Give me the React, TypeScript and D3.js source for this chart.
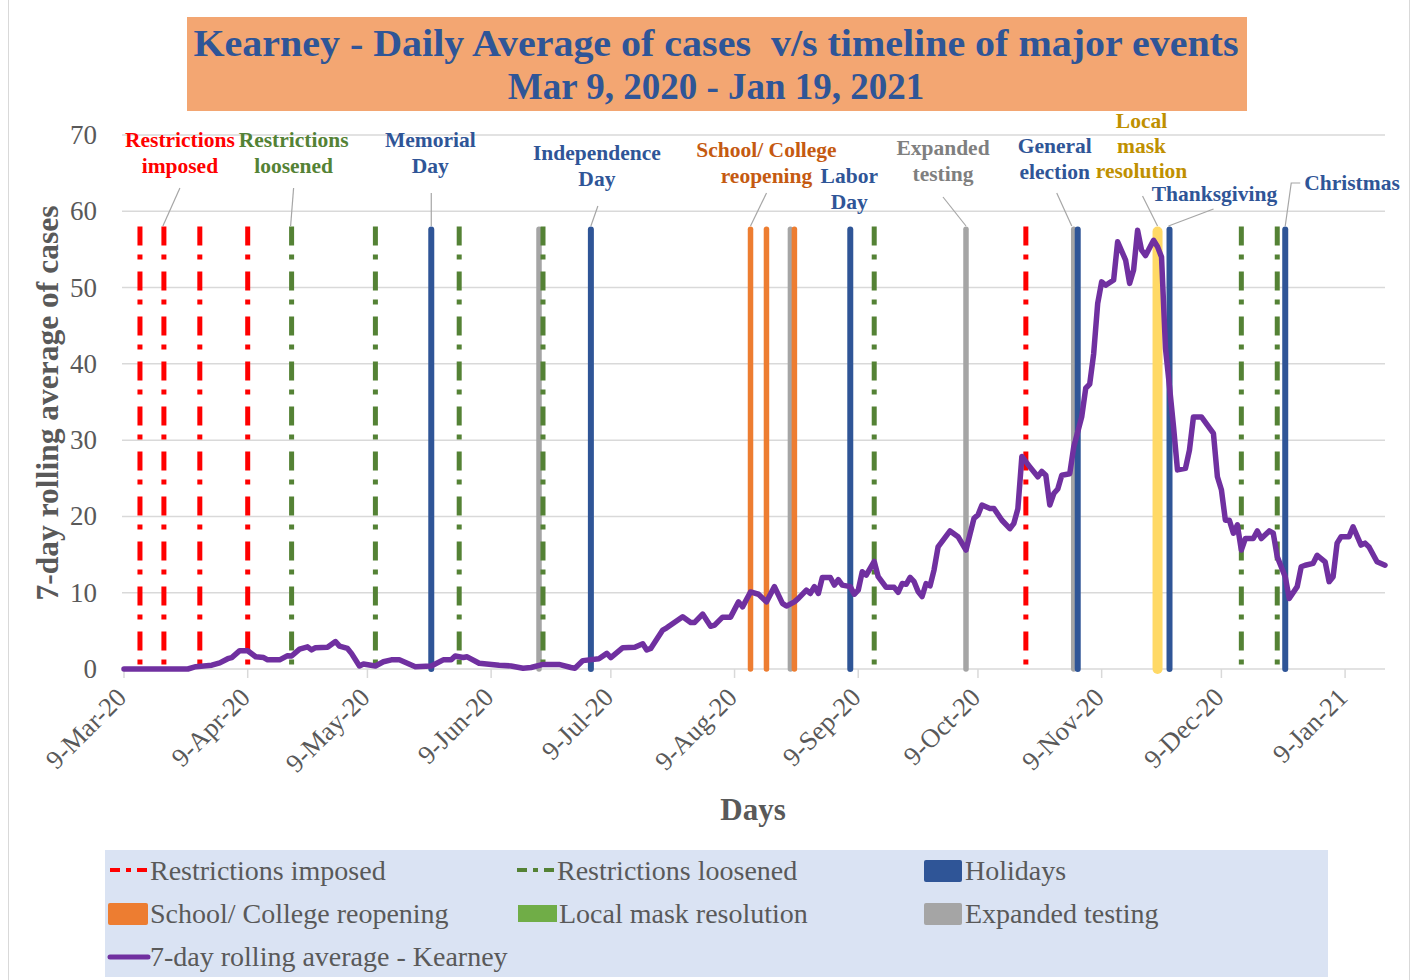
import React from "react";
import { line, scaleLinear, scaleTime, timeDay, timeFormat, timeParse } from "d3";

const parse = timeParse("%Y-%m-%d");
const startDate = parse("2020-03-09") as Date;
const endDate = parse("2021-01-19") as Date;

// 7-day rolling average, [days since 9-Mar-20, cases]
const rollingAvg: [number, number][] = [
  [0, 0], [16, 0], [18, 0.3], [22, 0.5], [24, 0.8], [26, 1.35], [27, 1.5], [29, 2.4], [31, 2.4],
  [33, 1.6], [35, 1.5], [36, 1.2], [39, 1.2], [41, 1.75], [42, 1.7], [44, 2.6], [46, 2.9], [47, 2.5],
  [48, 2.8], [51, 2.85], [53, 3.6], [54, 3.0], [56, 2.7], [57, 2.05], [59, 0.4], [60, 0.65], [63, 0.4],
  [65, 0.95], [67, 1.2], [69, 1.2], [73, 0.3], [77, 0.4], [80, 1.2], [82, 1.2], [83, 1.7], [85, 1.5],
  [86, 1.6], [89, 0.75], [94, 0.5], [97, 0.4], [100, 0.1], [102, 0.2], [105, 0.6], [109, 0.6],
  [112, 0.2], [113, 0.1], [115, 1.1], [119, 1.35], [121, 2.05], [122, 1.5], [125, 2.8], [128, 2.85],
  [130, 3.3], [131, 2.5], [132, 2.7], [135, 5.1], [136, 5.4], [140, 6.85], [142, 6.1], [143, 6.1],
  [145, 7.2], [147, 5.6], [148, 5.75], [150, 6.8], [152, 6.8], [154, 8.8], [155, 8.15], [157, 10.1],
  [159, 9.8], [161, 8.8], [163, 10.8], [165, 8.6], [166, 8.25], [168, 8.8], [169, 9.25], [171, 10.35],
  [172, 9.9], [173, 10.8], [174, 9.9], [175, 12.0], [177, 12.0], [178, 11.0], [179, 11.7], [180, 11.0],
  [182, 10.8], [183, 9.8], [184, 10.35], [185, 12.75], [186, 12.3], [188, 14.1], [189, 12.1],
  [191, 10.7], [193, 10.7], [194, 10.05], [195, 11.2], [196, 11.1], [197, 12.0], [198, 11.45],
  [199, 10.15], [200, 9.5], [201, 11.2], [202, 10.9], [203, 13.0], [204, 16.0], [207, 18.1],
  [209, 17.35], [211, 15.6], [213, 19.75], [214, 20.2], [215, 21.5], [217, 21.05], [218, 21.05],
  [220, 19.5], [222, 18.4], [223, 19.1], [224, 21.0], [225, 27.85], [227, 26.5], [229, 25.2],
  [230, 25.9], [231, 25.4], [232, 21.5], [233, 23.0], [234, 23.6], [235, 25.4], [237, 25.6],
  [238, 29.1], [240, 33.05], [241, 36.8], [242, 37.35], [243, 41.35], [244, 47.9], [245, 50.75],
  [246, 50.3], [248, 51.0], [249, 56.0], [251, 53.6], [252, 50.55], [253, 52.3], [254, 57.5],
  [255, 54.9], [256, 54.2], [258, 56.2], [259, 55.35], [260, 54.0], [261, 42.0], [262, 37.0],
  [263, 31.8], [264, 26.1], [266, 26.3], [267, 28.7], [268, 33.05], [270, 33.05], [273, 30.9],
  [274, 25.2], [275, 23.5], [276, 19.5], [277, 19.5], [278, 17.8], [279, 18.9], [280, 15.6],
  [281, 17.1], [283, 17.1], [284, 18.1], [285, 17.1], [287, 18.1], [288, 17.8], [289, 14.7],
  [291, 12.1], [292, 9.25], [294, 10.8], [295, 13.4], [296, 13.6], [298, 13.85], [299, 14.9],
  [301, 14.05], [302, 11.45], [303, 12.1], [304, 16.5], [305, 17.35], [307, 17.35], [308, 18.65],
  [310, 16.25], [311, 16.5], [312, 16.0], [314, 14.05], [316, 13.6],
];

// event markers (drawn as bars up to eventHeight)
const eventHeight = 58;
const restrictionsImposed = ["2020-03-13", "2020-03-19", "2020-03-28", "2020-04-09", "2020-10-21"];
const restrictionsLoosened = ["2020-04-20", "2020-05-11", "2020-06-01", "2020-06-22", "2020-09-13", "2020-12-14", "2020-12-23"];
const holidays = ["2020-05-25", "2020-07-04", "2020-09-07", "2020-11-03", "2020-11-26", "2020-12-25"];
const schoolReopening = ["2020-08-13", "2020-08-17", "2020-08-24"];
const localMask = ["2020-11-23"];
const expandedTesting = ["2020-06-21", "2020-08-23", "2020-10-06", "2020-11-02"];

const tickDates = [
  "2020-03-09", "2020-04-09", "2020-05-09", "2020-06-09", "2020-07-09", "2020-08-09",
  "2020-09-09", "2020-10-09", "2020-11-09", "2020-12-09", "2021-01-09",
];
const yTicks = [0, 10, 20, 30, 40, 50, 60, 70];

const FONT = "'Liberation Serif', 'Times New Roman', serif";
const AXIS_GREY = "#595959";
const GRID = "#D9D9D9";

const x = scaleTime().domain([startDate, endDate]).range([124, 1385]);
const y = scaleLinear().domain([0, 70]).range([669, 135]);
const fmt = timeFormat("%-d-%b-%y");

type Ann = {
  lines: string[];
  color: string;
  date: string;
  dx: number; // label centre offset from event
  y0: number; // first line centre
  lead?: [number, number][]; // leader points (dx from event, abs y), last one at event top
  anchor?: "middle" | "start";
};

const annotations: Ann[] = [
  { lines: ["Restrictions", "imposed"], color: "#FF0000", date: "2020-03-19", dx: 16, y0: 140, lead: [[16, 188], [-1, 226]] },
  { lines: ["Restrictions", "loosened"], color: "#548235", date: "2020-04-20", dx: 2, y0: 140, lead: [[2, 188], [-1, 226]] },
  { lines: ["Memorial", "Day"], color: "#2F5597", date: "2020-05-25", dx: -1, y0: 140, lead: [[0, 193], [0, 226]] },
  { lines: ["Independence", "Day"], color: "#2F5597", date: "2020-07-04", dx: 6, y0: 153, lead: [[7, 206], [0, 226]] },
  { lines: ["School/ College", "reopening"], color: "#C55A11", date: "2020-08-13", dx: 16, y0: 150, lead: [[16, 193], [0, 226]] },
  { lines: ["Labor", "Day"], color: "#2F5597", date: "2020-09-07", dx: -1, y0: 176 },
  { lines: ["Expanded", "testing"], color: "#7F7F7F", date: "2020-10-06", dx: -23, y0: 148, lead: [[-23, 197], [0, 226]] },
  { lines: ["General", "election"], color: "#2F5597", date: "2020-11-02", dx: -19, y0: 146, lead: [[-17, 193], [-2, 226]] },
  { lines: ["Local", "mask", "resolution"], color: "#BF9000", date: "2020-11-23", dx: -16, y0: 121, step: 0, lead: [[-15, 196], [0, 226]] } as Ann,
  { lines: ["Thanksgiving"], color: "#2F5597", date: "2020-11-26", dx: 45, y0: 194, lead: [[44, 209], [-1, 226]] },
  { lines: ["Christmas"], color: "#2F5597", date: "2020-12-25", dx: 19, y0: 183, anchor: "start", lead: [[15, 183], [6, 183], [0, 226]] },
];

function EventBars(props: { dates: string[]; color: string; width: number; dashed?: boolean }) {
  const { dates, color, width, dashed } = props;
  return (
    <g>
      {dates.map((d) => {
        const xx = x(parse(d) as Date);
        return (
          <line
            key={d}
            x1={xx}
            x2={xx}
            y1={y(eventHeight) + (dashed ? 0 : width / 2)}
            y2={y(0)}
            stroke={color}
            strokeWidth={width}
            strokeLinecap={dashed ? "butt" : "round"}
            strokeDasharray={dashed ? "19 9 5 12" : undefined}
          />
        );
      })}
    </g>
  );
}

export default function App() {
  const pts = rollingAvg.map(([d, v]) => [x(timeDay.offset(startDate, d)), y(v)] as [number, number]);
  const path = line()(pts) as string;

  const legendText = { fontFamily: FONT, fontSize: 28, fill: AXIS_GREY, dominantBaseline: "central" as const };

  return (
    <svg width={1417} height={980} style={{ position: "absolute", left: 0, top: 0, background: "#fff" }}>
      <rect x={8.5} y={-2} width={1401} height={984} fill="#fff" stroke={GRID} />

      {/* title */}
      <rect x={187} y={17} width={1060} height={94} fill="#F3A672" />
      <text
        x={716}
        y={56}
        textAnchor="middle"
        textLength={1045}
        lengthAdjust="spacingAndGlyphs"
        fontFamily={FONT}
        fontWeight="bold"
        fontSize={38}
        fill="#2F5597"
      >
        Kearney - Daily Average of cases{"\u00a0\u00a0"}v/s timeline of major events
      </text>
      <text x={716} y={99} textAnchor="middle" fontFamily={FONT} fontWeight="bold" fontSize={37} fill="#2F5597">
        Mar 9, 2020 - Jan 19, 2021
      </text>

      {/* grid */}
      {yTicks.map((t) => (
        <g key={t}>
          {t > 0 && <line x1={122} x2={1385} y1={y(t)} y2={y(t)} stroke={GRID} strokeWidth={1.5} />}
          <text x={97} y={y(t)} textAnchor="end" dominantBaseline="central" fontFamily={FONT} fontSize={27} fill={AXIS_GREY}>
            {t}
          </text>
        </g>
      ))}
      <line x1={122} x2={1385} y1={y(0)} y2={y(0)} stroke={GRID} strokeWidth={1.5} />
      {tickDates.map((d) => {
        const xx = x(parse(d) as Date);
        return (
          <g key={d}>
            <line x1={xx} x2={xx} y1={y(0)} y2={y(0) + 9} stroke={GRID} strokeWidth={1.5} />
            <text
              transform={`translate(${xx + 4},${y(0) + 30}) rotate(-45)`}
              textAnchor="end"
              fontFamily={FONT}
              fontSize={26.5}
              fill={AXIS_GREY}
            >
              {fmt(parse(d) as Date)}
            </text>
          </g>
        );
      })}

      {/* axis titles */}
      <text
        transform={`translate(58,${(y(0) + y(70)) / 2 + 1}) rotate(-90)`}
        textAnchor="middle"
        fontFamily={FONT}
        fontWeight="bold"
        fontSize={31.5}
        fill={AXIS_GREY}
      >
        7-day rolling average of cases
      </text>
      <text x={753} y={820} textAnchor="middle" fontFamily={FONT} fontWeight="bold" fontSize={31} fill={AXIS_GREY}>
        Days
      </text>

      {/* event bars */}
      <EventBars dates={expandedTesting} color="#A5A5A5" width={5.5} />
      <EventBars dates={restrictionsImposed} color="#FF0000" width={5} dashed />
      <EventBars dates={restrictionsLoosened} color="#548235" width={5} dashed />
      <EventBars dates={holidays} color="#2F5597" width={6} />
      <EventBars dates={schoolReopening} color="#ED7D31" width={5.5} />
      <EventBars dates={localMask} color="#FFD966" width={10} />

      {/* rolling average */}
      <path d={path} fill="none" stroke="#7030A0" strokeWidth={5.5} strokeLinejoin="round" strokeLinecap="round" />

      {/* annotations */}
      {annotations.map((a) => {
        const ex = x(parse(a.date) as Date);
        const step = a.lines.length > 2 ? 25 : 26;
        return (
          <g key={a.lines.join(" ")}>
            {a.lead && (
              <polyline
                points={a.lead.map(([dx, yy]) => `${ex + dx},${yy}`).join(" ")}
                fill="none"
                stroke="#A6A6A6"
                strokeWidth={1.2}
              />
            )}
            {a.lines.map((l, i) => (
              <text
                key={l}
                x={ex + a.dx}
                y={a.y0 + i * step}
                textAnchor={a.anchor ?? "middle"}
                dominantBaseline="central"
                fontFamily={FONT}
                fontWeight="bold"
                fontSize={21.5}
                fill={a.color}
              >
                {l}
              </text>
            ))}
          </g>
        );
      })}

      {/* legend */}
      <rect x={105} y={850} width={1223} height={127} fill="#DAE3F3" />
      <g>
        <line x1={110} x2={148} y1={870} y2={870} stroke="#FF0000" strokeWidth={4} strokeDasharray="10 6 5 6" />
        <text x={150} y={870} {...legendText}>Restrictions imposed</text>
        <line x1={517} x2={555} y1={870} y2={870} stroke="#548235" strokeWidth={4} strokeDasharray="10 6 5 6" />
        <text x={557} y={870} {...legendText}>Restrictions loosened</text>
        <rect x={924} y={860} width={38} height={22} rx={2} fill="#2F5597" />
        <text x={965} y={870} {...legendText}>Holidays</text>

        <rect x={108} y={903} width={40} height={22} rx={2} fill="#ED7D31" />
        <text x={150} y={913} {...legendText}>School/ College reopening</text>
        <rect x={518} y={905} width={39} height={17} fill="#70AD47" />
        <text x={559} y={913} {...legendText}>Local mask resolution</text>
        <rect x={924} y={903} width={38} height={22} rx={2} fill="#A5A5A5" />
        <text x={965} y={913} {...legendText}>Expanded testing</text>

        <line x1={110} x2={148} y1={957} y2={957} stroke="#7030A0" strokeWidth={5} strokeLinecap="round" />
        <text x={150} y={956} {...legendText}>7-day rolling average - Kearney</text>
      </g>
    </svg>
  );
}
